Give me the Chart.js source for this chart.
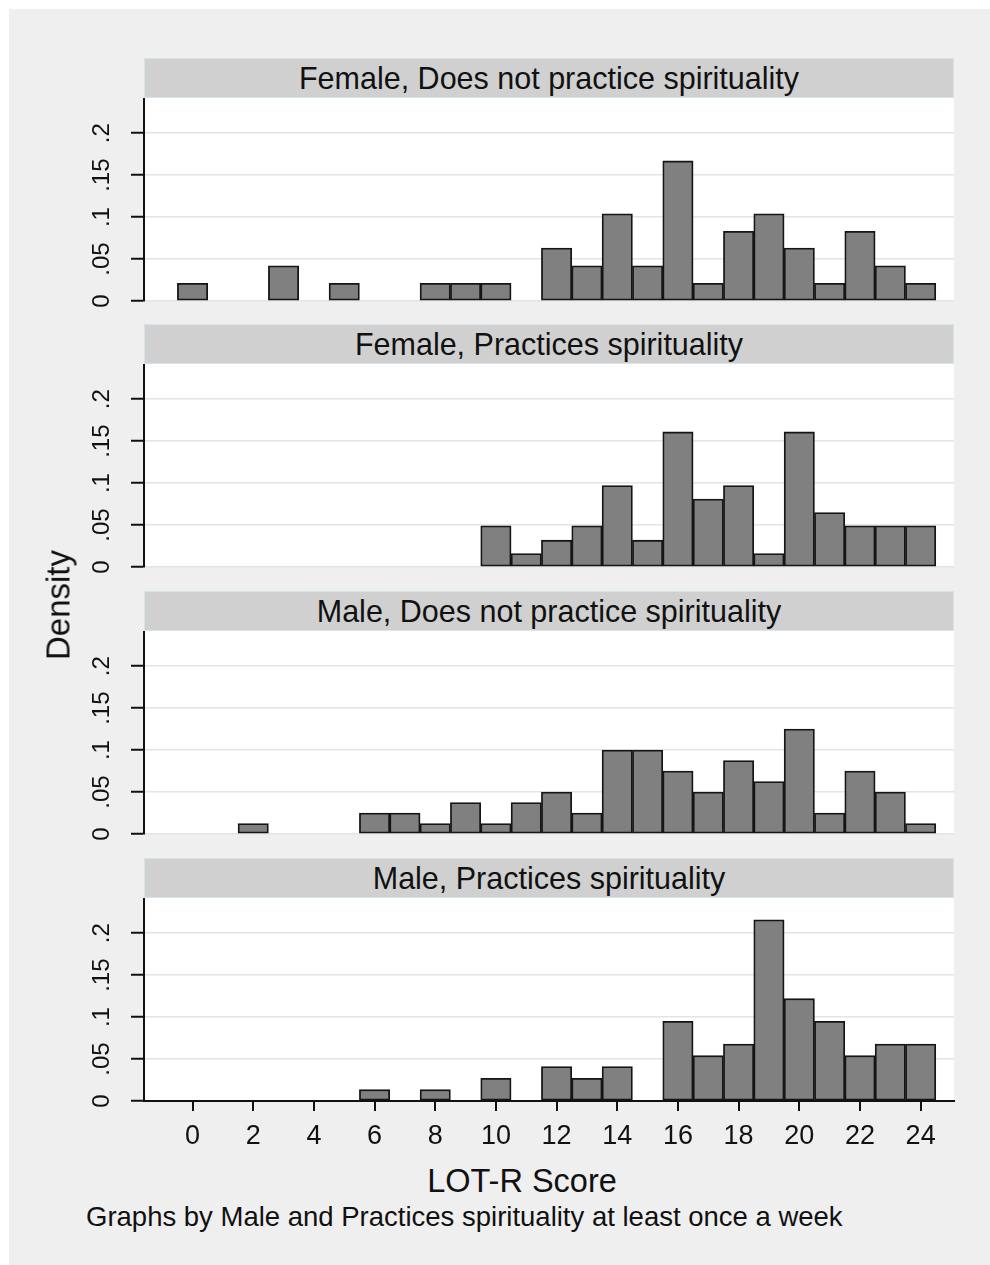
<!DOCTYPE html>
<html>
<head>
<meta charset="utf-8">
<script src="https://cdn.jsdelivr.net/npm/chart.js@4.4.1/dist/chart.umd.min.js"></script>
<style>
  html, body { margin: 0; padding: 0; background: #fff; width: 990px; height: 1265px; overflow: hidden; }
  body { position: relative; font-family: "Liberation Sans", Arial, sans-serif; color: #111; }
  #bg { position: absolute; left: 9px; top: 9px; width: 981px; height: 1256px; background: #efefef; }
  .strip { position: absolute; left: 144px; width: 808px; height: 38px; line-height: 38px;
           background: #d0d0d0; border: 1px solid #d6e4ee; text-align: center; font-size: 30.5px; }
  canvas { position: absolute; left: 0; }
  .lbl { position: absolute; white-space: nowrap; line-height: 1; }
</style>
</head>
<body>
<div id="bg"></div>
<div id="panels"></div>
<div class="lbl" id="ytitle" style="left:58px; top:605px; font-size:33px; transform: translate(-50%,-50%) rotate(-90deg);">Density</div>
<div class="lbl" id="xtitle" style="left:522px; top:1181px; font-size:32.5px; transform: translate(-50%,-50%);">LOT-R Score</div>
<div class="lbl" id="note" style="left:86px; top:1217px; font-size:27.5px; transform: translateY(-50%);">Graphs by Male and Practices spirituality at least once a week</div>

<script>
// bin centres (LOT-R score)
const scores = [0,1,2,3,4,5,6,7,8,9,10,11,12,13,14,15,16,17,18,19,20,21,22,23,24];

// densities (null = empty bin)
const femaleNoPractice = [0.021, null, null, 0.042, null, 0.021, null, null, 0.021, 0.021, 0.021, null,
                          0.063, 0.042, 0.104, 0.042, 0.167, 0.021, 0.083, 0.104, 0.063, 0.021, 0.083, 0.042, 0.021];
const femalePractice   = [null, null, null, null, null, null, null, null, null, null, 0.049, 0.016,
                          0.032, 0.049, 0.097, 0.032, 0.161, 0.081, 0.097, 0.016, 0.161, 0.065, 0.049, 0.049, 0.049];
const maleNoPractice   = [null, null, 0.0125, null, null, null, 0.025, 0.025, 0.0125, 0.0375, 0.0125, 0.0375,
                          0.05, 0.025, 0.1, 0.1, 0.075, 0.05, 0.0875, 0.0625, 0.125, 0.025, 0.075, 0.05, 0.0125];
const malePractice     = [null, null, null, null, null, null, 0.0135, null, 0.0135, null, 0.027, null,
                          0.041, 0.027, 0.041, null, 0.095, 0.054, 0.068, 0.216, 0.122, 0.095, 0.054, 0.068, 0.068];

const panelTitles = [
  'Female, Does not practice spirituality',
  'Female, Practices spirituality',
  'Male, Does not practice spirituality',
  'Male, Practices spirituality'
];
const panelData = [femaleNoPractice, femalePractice, maleNoPractice, malePractice];

const yTicks = [0, 0.05, 0.1, 0.15, 0.2];
const xTicks = [0, 2, 4, 6, 8, 10, 12, 14, 16, 18, 20, 22, 24];

// layout
const stripTops = [58, 324, 591, 858];
const stripH = 40;
const plotH = 203;
const xAxisH = 52;
const labelRoom = 18; // keeps the rotated "0" from being clipped

Chart.defaults.font.family = '"Liberation Sans", Arial, sans-serif';
Chart.defaults.color = '#111';

const plotBg = {
  id: 'plotBg',
  beforeDraw(chart) {
    const { ctx, chartArea: a } = chart;
    ctx.save();
    ctx.fillStyle = '#ffffff';
    ctx.fillRect(a.left, a.top, a.right - a.left, a.bottom - a.top);
    ctx.restore();
  }
};

function yLabel(v) {
  if (v === 0) return '0';
  return String(+v.toFixed(2)).replace(/^0/, '');
}

function makePanel(i) {
  const holder = document.getElementById('panels');

  const strip = document.createElement('div');
  strip.className = 'strip';
  strip.style.top = stripTops[i] + 'px';
  strip.textContent = panelTitles[i];
  holder.appendChild(strip);

  const isBottom = i === panelData.length - 1;
  const cv = document.createElement('canvas');
  cv.width = 990;
  cv.height = plotH + (isBottom ? xAxisH : labelRoom);
  cv.style.top = (stripTops[i] + stripH) + 'px';
  holder.appendChild(cv);

  const vals = panelData[i];

  return new Chart(cv, {
    type: 'bar',
    data: {
      datasets: [{
        data: scores.map((s, k) => ({ x: s, y: vals[k] })),
        backgroundColor: '#808080',
        borderColor: '#151515',
        borderWidth: 1.8,
        borderSkipped: false,
        barPercentage: 1,
        categoryPercentage: 1
      }]
    },
    options: {
      responsive: false,
      maintainAspectRatio: false,
      animation: false,
      layout: { padding: { left: 0, right: 36, top: 0, bottom: isBottom ? 0 : labelRoom } },
      plugins: { legend: { display: false }, tooltip: { enabled: false } },
      scales: {
        x: {
          type: 'linear',
          min: -1.6,
          max: 25.1,
          offset: false,
          display: isBottom,
          afterBuildTicks: s => { s.ticks = xTicks.map(v => ({ value: v })); },
          afterFit: s => {
            if (isBottom) s.height = xAxisH;
            s.paddingLeft = 0; s.paddingRight = 0;
          },
          grid: {
            display: true, offset: false, drawOnChartArea: false, drawTicks: true,
            color: '#111', lineWidth: 2, tickLength: 10, tickColor: '#111', tickWidth: 2
          },
          border: { display: true, color: '#111', width: 2 },
          ticks: { font: { size: 27 }, padding: 9, maxRotation: 0, autoSkip: false, color: '#111' }
        },
        y: {
          min: 0,
          max: 0.242,
          afterBuildTicks: s => { s.ticks = yTicks.map(v => ({ value: v })); },
          afterFit: s => { s.width = 144; s.paddingTop = 0; s.paddingBottom = 0; },
          grid: { color: '#e4e4e4', lineWidth: 1.5, drawTicks: true, tickLength: 13, tickColor: '#111', tickWidth: 2 },
          border: { display: true, color: '#111', width: 2 },
          ticks: {
            minRotation: 90, maxRotation: 90, crossAlign: 'center', padding: 12,
            font: { size: 24 }, color: '#111',
            callback: v => yLabel(v)
          }
        }
      }
    },
    plugins: [plotBg]
  });
}

panelData.forEach((d, i) => makePanel(i));
</script>
</body>
</html>
